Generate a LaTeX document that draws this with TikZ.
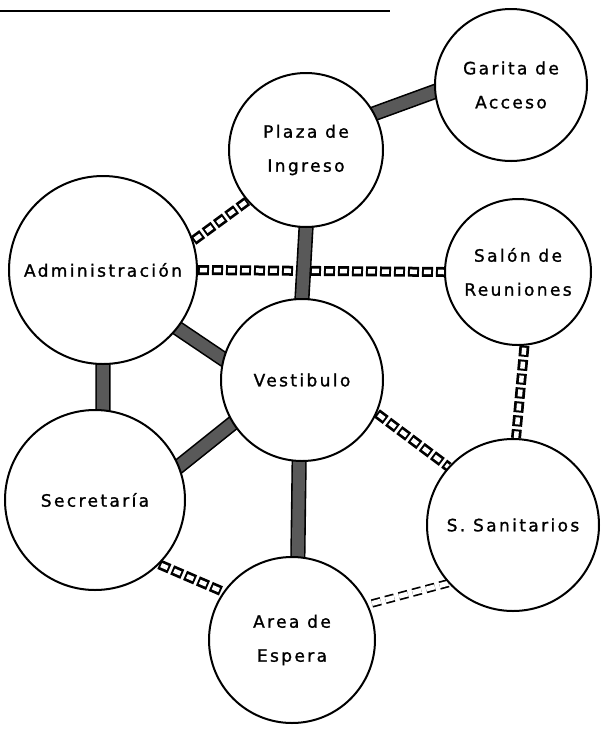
\documentclass[tikz,border=0pt]{standalone}
\usepackage{fontspec}
\newfontfamily\roomfont[LetterSpace=14,FakeBold=1.2]{DejaVu Sans}
\usetikzlibrary{backgrounds}

\begin{document}
\begin{tikzpicture}[x=1pt,y=-1pt,
  room/.style={circle,draw,line width=2pt,fill=white,inner sep=0pt,align=center,
    font={\roomfont\fontsize{17pt}{34pt}\selectfont}},
  strong/.style={line width=1.6pt,double=black!65,double distance=12pt,
    shorten <=-8pt,shorten >=-8pt},
  chain/.style={line width=4.5pt,draw=white,dash pattern=on 7pt off 7pt,dash phase=12pt,
    preaction={draw=black,line width=10pt,dash pattern=on 11pt off 3pt,dash phase=0pt}},
  weak/.style={line width=1.7pt,double=white,double distance=5pt,dash pattern=on 9pt off 5pt}]
\useasboundingbox (0,0) rectangle (614,740);
\coordinate (rulea) at (0,11);
\coordinate (ruleb) at (390,11);
\draw[line width=2pt] (rulea) -- (ruleb);

\node[room,minimum size=152pt] (garita) at (511,85) {Garita de\\Acceso};
\node[room,minimum size=154pt] (plaza) at (306,150) {Plaza de\\Ingreso};
\node[room,minimum size=188pt] (admin) at (103,270) {Administración};
\node[room,minimum size=146pt] (salon) at (518,272) {Salón de\\Reuniones};
\node[room,minimum size=162pt] (vest) at (302,380) {Vestibulo};
\node[room,minimum size=180pt] (secre) at (95,500) {Secretaría};
\node[room,minimum size=172pt] (sanit) at (513,525) {S. Sanitarios};
\node[room,minimum size=166pt] (area) at (292,640) {Area de\\Espera};

\begin{scope}[on background layer]
% medium relations
\draw[chain] (admin.18) -- (plaza.221);
\draw[chain] (admin.east) -- (salon.west);
\draw[chain] (salon.-85) -- (sanit.88);
\draw[chain] (vest.-24) -- (sanit.138);
\draw[chain] (secre.-45) -- (area.145);
% weak relation
\draw[weak] (sanit.222) -- (area.25);
% strong relations
\draw[strong] (plaza.28) -- (garita.185);
\draw[strong] (plaza.south) -- (vest.north);
\draw[strong] (admin.-38) -- (vest.165);
\draw[strong] (admin.-90) -- (secre.85);
\draw[strong] (secre.22) -- (vest.212);
\draw[strong] (vest.-92) -- (area.86);
\end{scope}
\end{tikzpicture}
\end{document}
